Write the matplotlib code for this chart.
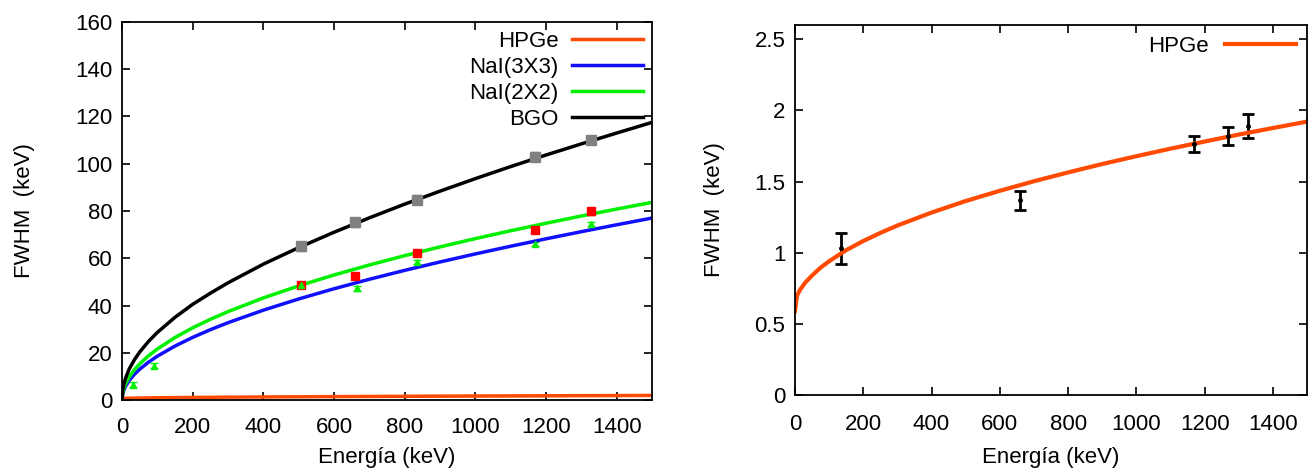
import matplotlib.pyplot as plt

plt.rcParams['font.family'] = ['Liberation Sans', 'DejaVu Sans']
plt.rcParams['font.size'] = 16

# fit curves (energy in keV, FWHM in keV)
E_fit = [0, 2, 5, 10, 20, 35, 50, 75, 100, 150, 200, 250, 300, 400, 500,
         600, 700, 800, 900, 1000, 1100, 1200, 1300, 1400, 1500]
nai33_fit = [0, 2.57, 4.07, 5.77, 8.18, 10.86, 13.01, 16.01, 18.55, 22.84,
             26.50, 29.76, 32.72, 38.02, 42.76, 47.09, 51.10, 54.87, 58.43,
             61.83, 65.09, 68.22, 71.25, 74.17, 77.01]
nai22_fit = [0, 3.05, 4.83, 6.83, 9.66, 12.78, 15.27, 18.71, 21.60, 26.45,
             30.55, 34.15, 37.41, 43.20, 48.30, 52.91, 57.15, 61.09, 64.80,
             68.31, 71.64, 74.82, 77.88, 80.82, 83.66]
bgo_fit = [0, 4.1, 6.5, 9.2, 13.0, 17.0, 20.3, 24.8, 28.6, 35.0,
           40.5, 45.2, 49.6, 57.5, 64.5, 71.0, 77.1, 82.9, 88.4,
           93.7, 98.8, 103.7, 108.4, 113.0, 117.5]

E_ge_fit = [0, 6, 15, 30, 50, 75, 100, 150, 200, 250, 300, 400, 500, 600,
            700, 800, 900, 1000, 1100, 1200, 1300, 1400, 1500]
hpge_fit = [0.59, 0.70, 0.74, 0.79, 0.84, 0.895, 0.94, 1.018, 1.082, 1.139,
            1.191, 1.282, 1.363, 1.435, 1.502, 1.564, 1.623, 1.678, 1.731,
            1.781, 1.830, 1.876, 1.921]

# measured points
E_bgo = [506, 660, 834, 1168, 1328]
bgo_pts = [65.0, 75.2, 84.8, 103.0, 110.0]
E_red = [506, 660, 834, 1168, 1328]
red_pts = [48.8, 52.6, 62.2, 72.0, 79.8]
E_grn = [30, 90, 506, 666, 834, 1168, 1328]
grn_pts = [6.5, 14.5, 48.5, 47.3, 58.4, 66.0, 74.5]

E_ge = [135, 660, 1170, 1270, 1328]
ge_pts = [1.03, 1.37, 1.765, 1.82, 1.89]
ge_err = [0.11, 0.067, 0.055, 0.066, 0.085]

fig = plt.figure(figsize=(13.14, 4.71), dpi=100)
ax1 = fig.add_axes([122 / 1314, 71 / 471, 530 / 1314, 378 / 471])
ax2 = fig.add_axes([795 / 1314, 76 / 471, 512 / 1314, 370 / 471])

orange = '#ff4a00'
blue = '#1010ff'
green = '#00f000'

# left panel
ax1.errorbar(E_bgo, bgo_pts, yerr=1.8, fmt='s', color='#808080', ms=7,
             elinewidth=2.5, capsize=3)
ax1.errorbar(E_red, red_pts, yerr=1.3, fmt='s', color='#ff0000', ms=6,
             elinewidth=2, capsize=3)
ax1.errorbar(E_grn, grn_pts, yerr=1.0, fmt='^', color=green, ms=5,
             elinewidth=2, capsize=3)
ax1.plot(E_ge_fit, hpge_fit, color=orange, lw=2.5, label='HPGe')
ax1.plot(E_fit, nai33_fit, color=blue, lw=2.5, label='NaI(3X3)')
ax1.plot(E_fit, nai22_fit, color=green, lw=2.5, label='NaI(2X2)')
ax1.plot(E_fit, bgo_fit, color='black', lw=2.5, label='BGO')
ax1.set_xlim(0, 1500)
ax1.set_ylim(0, 160)
ax1.set_xticks(range(0, 1401, 200))
ax1.set_yticks(range(0, 161, 20))
ax1.set_xlabel('Energía (keV)', labelpad=7)
ax1.set_ylabel('FWHM  (keV)', labelpad=29)
ax1.legend(loc='upper right', frameon=False, markerfirst=False,
           handlelength=3.2, labelspacing=0.22, borderaxespad=0.1,
           handletextpad=0.6, fontsize=16, borderpad=0.3)

# right panel
ax2.errorbar(E_ge, ge_pts, yerr=ge_err, fmt='o', color='black', ms=2.5,
             elinewidth=2, capsize=4, capthick=2)
ax2.plot(E_ge_fit, hpge_fit, color=orange, lw=3, label='HPGe')
ax2.set_xlim(0, 1500)
ax2.set_ylim(0, 2.6)
ax2.set_xticks(range(0, 1401, 200))
ax2.set_yticks([0, 0.5, 1, 1.5, 2, 2.5])
ax2.set_yticklabels(['0', '0.5', '1', '1.5', '2', '2.5'])
ax2.set_xlabel('Energía (keV)', labelpad=8)
ax2.set_ylabel('FWHM  (keV)', labelpad=21)
ax2.legend(loc='upper right', frameon=False, markerfirst=False,
           handlelength=3.2, borderaxespad=0.2, handletextpad=0.7,
           fontsize=16, borderpad=0.3)

for ax in (ax1, ax2):
    ax.tick_params(direction='in', top=True, right=True, length=6, width=1.2,
                   labelsize=16)
    ax.tick_params(axis='y', pad=7)
    for s in ax.spines.values():
        s.set_linewidth(1.3)
ax1.tick_params(axis='x', pad=12)
ax2.tick_params(axis='x', pad=14)

fig.savefig('out.png', dpi=100)
